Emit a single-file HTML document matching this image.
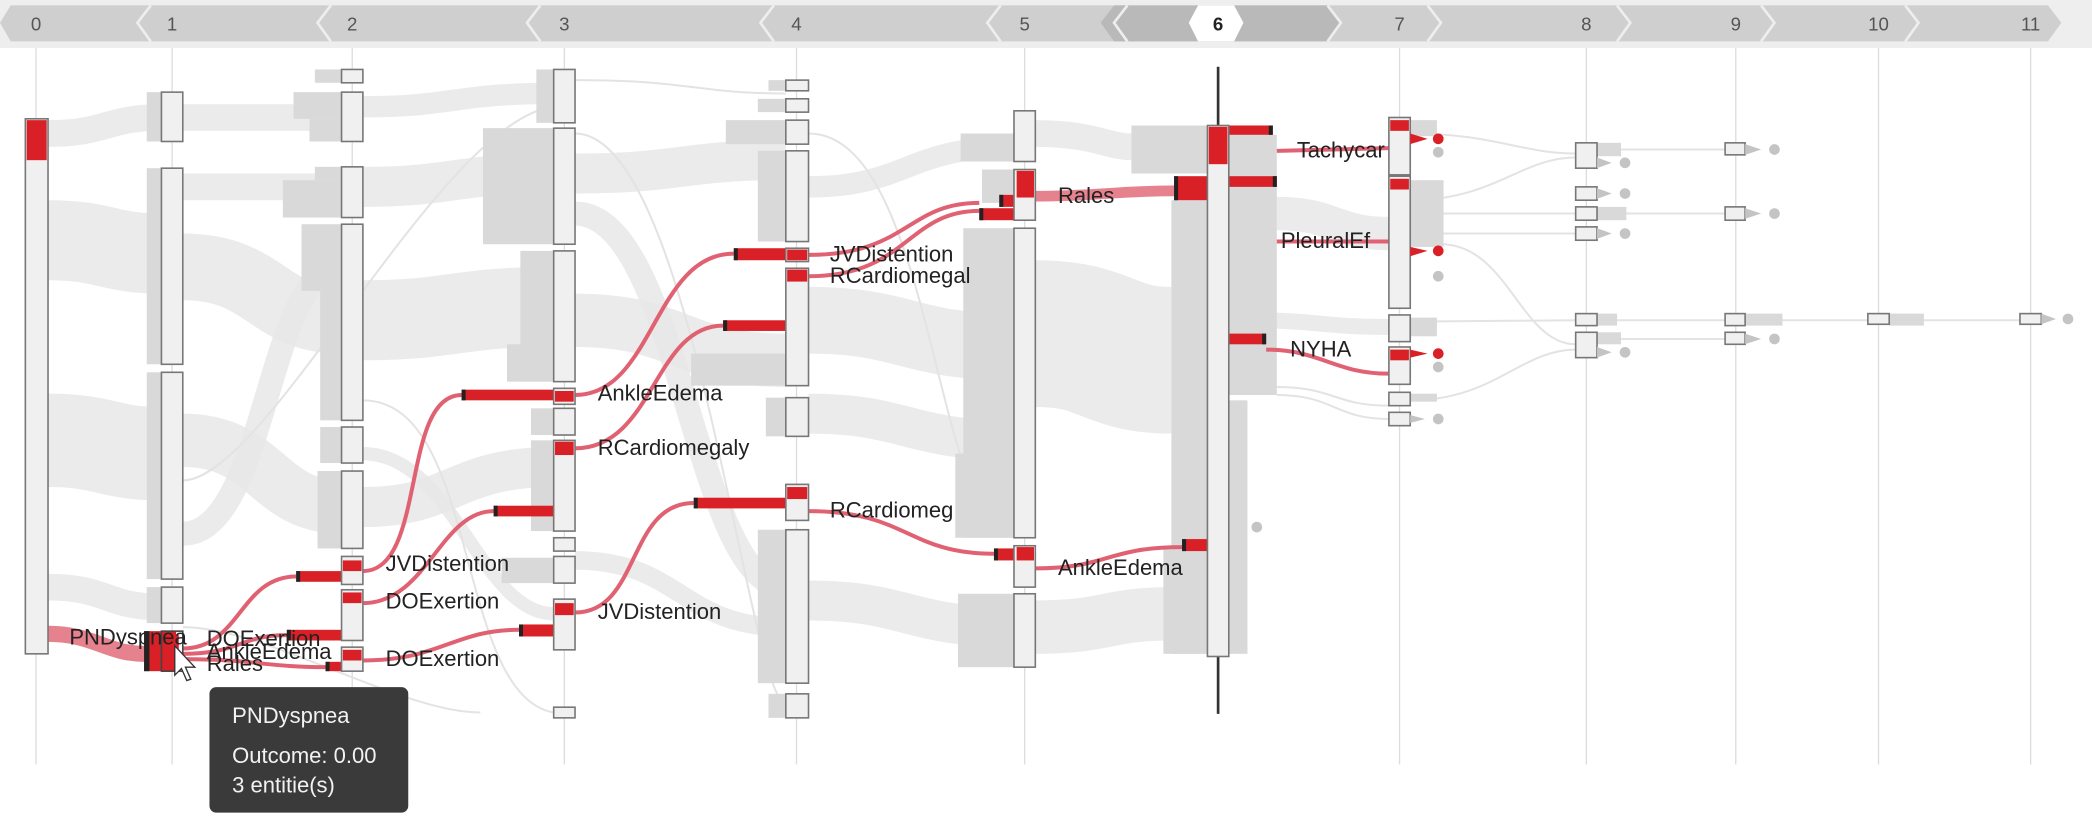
<!DOCTYPE html>
<html><head><meta charset="utf-8"><style>
html,body{margin:0;padding:0;background:#fff;}
svg{display:block;}
text{font-family:"Liberation Sans",Arial,sans-serif;}
</style></head><body>
<svg width="2092" height="822" viewBox="0 0 1568 616" xmlns="http://www.w3.org/2000/svg">
<rect x="0" y="0" width="1568" height="36" fill="#eeeeee"/>
<polygon points="0,17 8,4 1535,4 1545,17 1535,31 8,31" fill="#cfcfcf"/>
<polygon points="835,4 995,4 1005,17 995,31 835,31 825,17" fill="#b9b9b9"/>
<polygon points="898,4 925,4 932,17 925,31 898,31 891,17" fill="#ffffff"/>
<g stroke="#eeeeee" stroke-width="2" fill="none">
<polyline points="113,4 103,17 113,31"/>
<polyline points="248,4 238,17 248,31"/>
<polyline points="405,4 395,17 405,31"/>
<polyline points="580,4 570,17 580,31"/>
<polyline points="750,4 740,17 750,31"/>
<polyline points="845,4 835,17 845,31"/>
<polyline points="995,4 1005,17 995,31"/>
<polyline points="1070,4 1080,17 1070,31"/>
<polyline points="1212,4 1222,17 1212,31"/>
<polyline points="1320,4 1330,17 1320,31"/>
<polyline points="1428,4 1438,17 1428,31"/>
</g>
<g font-size="14" fill="#555" text-anchor="middle">
<text x="27" y="23">0</text><text x="129" y="23">1</text><text x="264" y="23">2</text><text x="423" y="23">3</text><text x="597" y="23">4</text><text x="768" y="23">5</text><text x="913" y="23" fill="#222" font-weight="bold">6</text><text x="1049" y="23">7</text><text x="1189" y="23">8</text><text x="1301" y="23">9</text><text x="1408" y="23">10</text><text x="1522" y="23">11</text>
</g>
<g stroke="#dddddd" stroke-width="1">
<line x1="27" y1="36" x2="27" y2="573"/><line x1="129" y1="36" x2="129" y2="573"/><line x1="264" y1="36" x2="264" y2="573"/><line x1="423" y1="36" x2="423" y2="573"/><line x1="597" y1="36" x2="597" y2="573"/><line x1="768" y1="36" x2="768" y2="573"/><line x1="1049" y1="36" x2="1049" y2="573"/><line x1="1189" y1="36" x2="1189" y2="573"/><line x1="1301" y1="36" x2="1301" y2="573"/><line x1="1408" y1="36" x2="1408" y2="573"/><line x1="1522" y1="36" x2="1522" y2="573"/>
</g>
<g fill="none" stroke="#e8e8e8" stroke-opacity="0.85">
<path d="M36,100 C80,100 80,88 121,88" stroke-width="20"/>
<path d="M36,180 C80,180 80,190 121,190" stroke-width="60"/>
<path d="M36,330 C80,330 80,340 121,340" stroke-width="70"/>
<path d="M36,440 C80,440 80,455 121,455" stroke-width="20"/>
<path d="M137,88 C200,88 200,88 256,88" stroke-width="20"/>
<path d="M137,200 C200,200 200,240 256,240" stroke-width="50"/>
<path d="M137,140 C200,140 200,140 256,140" stroke-width="20"/>
<path d="M137,330 C200,330 200,380 256,380" stroke-width="40"/>
<path d="M137,400 C200,400 200,200 256,200" stroke-width="18"/>
<path d="M272,80 C340,80 340,70 415,70" stroke-width="16"/>
<path d="M272,140 C340,140 340,130 415,130" stroke-width="30"/>
<path d="M272,240 C340,240 340,230 415,230" stroke-width="60"/>
<path d="M272,380 C340,380 340,350 415,350" stroke-width="30"/>
<path d="M272,340 C340,340 360,460 415,460" stroke-width="10"/>
<path d="M431,130 C510,130 510,120 589,120" stroke-width="30"/>
<path d="M431,240 C510,240 510,270 589,270" stroke-width="40"/>
<path d="M431,160 C510,160 520,440 589,440" stroke-width="18"/>
<path d="M431,420 C510,420 510,470 589,470" stroke-width="14"/>
<path d="M606,140 C680,140 680,110 760,110" stroke-width="16"/>
<path d="M606,240 C680,240 680,260 760,260" stroke-width="50"/>
<path d="M606,310 C680,310 680,330 760,330" stroke-width="30"/>
<path d="M606,450 C680,450 680,470 760,470" stroke-width="30"/>
<path d="M776,100 C820,100 830,110 848,110" stroke-width="20"/>
<path d="M776,250 C830,250 830,270 878,270" stroke-width="110"/>
<path d="M776,470 C830,470 830,460 878,460" stroke-width="40"/>
<path d="M957,160 C1000,160 1000,175 1041,175" stroke-width="25"/>
<path d="M935,240 C990,240 990,245 1041,245" stroke-width="12"/>
</g>
<g fill="none" stroke="#e3e3e3" stroke-width="1.5">
<path d="M137,360 C200,360 330,90 415,80"/>
<path d="M272,300 C360,300 340,520 415,534"/>
<path d="M137,470 C200,470 300,534 360,534"/>
<path d="M431,60 C520,60 520,70 589,70"/>
<path d="M431,100 C520,100 560,520 589,528"/>
<path d="M606,100 C700,100 700,400 760,400"/>
<path d="M1057,100 C1120,100 1140,115 1181,115"/>
<path d="M1057,150 C1120,150 1140,118 1181,118"/>
<path d="M1057,160 C1120,160 1140,160 1181,160"/>
<path d="M1057,175 C1120,175 1140,175 1181,175"/>
<path d="M1080,183 C1130,183 1140,258 1181,258"/>
<path d="M1057,241 L1181,240"/>
<path d="M1057,300 C1120,300 1140,262 1181,262"/>
<path d="M1197,112 L1293,112"/><path d="M1197,160 L1293,160"/><path d="M1197,240 L1514,240"/><path d="M1197,254 L1293,254"/>
<path d="M957,290 C1000,290 1000,304 1041,304"/>
<path d="M957,296 C1000,296 1000,314 1041,314"/>
</g>
<g fill="#d9d9d9">
<rect x="110" y="69" width="11" height="37"/><rect x="110" y="126" width="11" height="147"/><rect x="110" y="279" width="11" height="155"/><rect x="110" y="440" width="11" height="27"/>
<rect x="236" y="52" width="20" height="10"/><rect x="220" y="69" width="36" height="20"/><rect x="232" y="89" width="24" height="17"/><rect x="236" y="125" width="20" height="10"/><rect x="212" y="135" width="44" height="28"/><rect x="226" y="168" width="30" height="50"/><rect x="240" y="218" width="16" height="97"/><rect x="240" y="320" width="16" height="27"/><rect x="238" y="353" width="18" height="58"/>
<rect x="402" y="52" width="13" height="40"/><rect x="362" y="96" width="53" height="87"/><rect x="390" y="188" width="25" height="98"/><rect x="380" y="258" width="35" height="28"/><rect x="398" y="306" width="17" height="20"/><rect x="398" y="330" width="17" height="68"/><rect x="376" y="418" width="39" height="19"/>
<rect x="576" y="60" width="13" height="8"/><rect x="568" y="74" width="21" height="10"/><rect x="544" y="90" width="45" height="18"/><rect x="568" y="113" width="21" height="68"/><rect x="518" y="265" width="71" height="24"/><rect x="574" y="298" width="15" height="29"/><rect x="568" y="397" width="21" height="115"/><rect x="576" y="520" width="13" height="18"/>
<rect x="720" y="100" width="40" height="21"/><rect x="736" y="127" width="24" height="25"/><rect x="722" y="171" width="38" height="232"/><rect x="716" y="340" width="44" height="63"/><rect x="718" y="445" width="42" height="55"/>
<rect x="848" y="94" width="57" height="36"/><rect x="878" y="150" width="27" height="340"/><rect x="872" y="410" width="33" height="80"/>
<rect x="921" y="101" width="36" height="195"/><rect x="921" y="300" width="14" height="190"/>
<rect x="1057" y="90" width="20" height="12"/><rect x="1057" y="135" width="25" height="50"/><rect x="1057" y="238" width="20" height="14"/><rect x="1057" y="295" width="20" height="6"/>
<rect x="1197" y="107" width="18" height="10"/><rect x="1197" y="155" width="22" height="10"/><rect x="1197" y="235" width="15" height="9"/><rect x="1197" y="249" width="18" height="9"/>
<rect x="1308" y="235" width="28" height="9"/><rect x="1416" y="235" width="26" height="9"/>
</g>
<g fill="none" stroke="#e06272" stroke-width="3">
<path d="M137,486 C180,486 180,432 222,432"/>
<path d="M137,490 C180,490 180,476 215,476"/>
<path d="M137,494 C190,494 200,500 244,500"/>
<path d="M272,428 C320,428 300,296 346,296"/>
<path d="M272,452 C320,452 330,383 370,383"/>
<path d="M272,495 C330,495 340,472 389,472"/>
<path d="M431,296 C490,296 490,190 550,190"/>
<path d="M431,336 C490,336 490,244 542,244"/>
<path d="M431,459 C480,459 470,377 520,377"/>
<path d="M606,191 C680,191 680,152 734,152"/>
<path d="M606,207 C680,207 680,158 734,158"/>
<path d="M606,383 C680,383 680,415 745,415"/>
<path d="M776,426 C830,426 830,410 886,410"/>
<path d="M957,113 L1041,111"/>
<path d="M957,181 L1041,181"/>
<path d="M949,262 C990,262 1000,280 1041,280"/>
</g>
<path d="M36,475 C70,475 80,490 108,490" stroke="#e06272" stroke-width="12" fill="none" opacity="0.8"/>
<path d="M776,147 C820,147 840,143 880,143" stroke="#e06272" stroke-width="8" fill="none" opacity="0.8"/>
<g fill="#d92027">
<rect x="222" y="428" width="34" height="8"/><rect x="215" y="472" width="41" height="8"/><rect x="244" y="496" width="12" height="7"/>
<rect x="346" y="292" width="69" height="8"/><rect x="370" y="379" width="45" height="8"/><rect x="389" y="468" width="26" height="9"/>
<rect x="550" y="186" width="39" height="9"/><rect x="542" y="240" width="47" height="8"/><rect x="520" y="373" width="69" height="8"/>
<rect x="734" y="156" width="26" height="9"/><rect x="749" y="146" width="11" height="9"/><rect x="745" y="411" width="15" height="9"/>
<rect x="880" y="132" width="25" height="18"/><rect x="886" y="404" width="19" height="9"/>
<rect x="921" y="94" width="33" height="7"/><rect x="921" y="132" width="36" height="8"/><rect x="921" y="250" width="28" height="8"/>
<rect x="108" y="473" width="24" height="30"/>
</g>
<g fill="#222">
<rect x="222" y="428" width="3" height="8"/><rect x="215" y="472" width="3" height="8"/><rect x="244" y="496" width="3" height="7"/><rect x="346" y="292" width="3" height="8"/><rect x="370" y="379" width="3" height="8"/><rect x="389" y="468" width="3" height="9"/><rect x="550" y="186" width="3" height="9"/><rect x="542" y="240" width="3" height="8"/><rect x="520" y="373" width="3" height="8"/><rect x="734" y="156" width="3" height="9"/><rect x="749" y="146" width="3" height="9"/><rect x="745" y="411" width="3" height="9"/><rect x="880" y="132" width="3" height="18"/><rect x="886" y="404" width="3" height="9"/><rect x="951" y="94" width="3" height="7"/><rect x="954" y="132" width="3" height="8"/><rect x="946" y="250" width="3" height="8"/><rect x="108" y="473" width="4" height="30"/>
</g>
<line x1="913" y1="50" x2="913" y2="535" stroke="#333" stroke-width="2"/>
<g fill="#f0f0f0" stroke="#777" stroke-width="1.2">
<rect x="19" y="89" width="17" height="401"/>
<rect x="121" y="69" width="16" height="37"/><rect x="121" y="126" width="16" height="147"/><rect x="121" y="279" width="16" height="155"/><rect x="121" y="440" width="16" height="27"/>
<rect x="256" y="52" width="16" height="10"/><rect x="256" y="69" width="16" height="37"/><rect x="256" y="125" width="16" height="38"/><rect x="256" y="168" width="16" height="147"/><rect x="256" y="320" width="16" height="27"/><rect x="256" y="353" width="16" height="58"/><rect x="256" y="417" width="16" height="21"/><rect x="256" y="442" width="16" height="38"/><rect x="256" y="485" width="16" height="18"/>
<rect x="415" y="52" width="16" height="40"/><rect x="415" y="96" width="16" height="87"/><rect x="415" y="188" width="16" height="98"/><rect x="415" y="291" width="16" height="12"/><rect x="415" y="306" width="16" height="20"/><rect x="415" y="330" width="16" height="68"/><rect x="415" y="403" width="16" height="10"/><rect x="415" y="417" width="16" height="20"/><rect x="415" y="449" width="16" height="38"/><rect x="415" y="530" width="16" height="8"/>
<rect x="589" y="60" width="17" height="8"/><rect x="589" y="74" width="17" height="10"/><rect x="589" y="90" width="17" height="18"/><rect x="589" y="113" width="17" height="68"/><rect x="589" y="186" width="17" height="10"/><rect x="589" y="201" width="17" height="88"/><rect x="589" y="298" width="17" height="29"/><rect x="589" y="363" width="17" height="27"/><rect x="589" y="397" width="17" height="115"/><rect x="589" y="520" width="17" height="18"/>
<rect x="760" y="83" width="16" height="38"/><rect x="760" y="127" width="16" height="38"/><rect x="760" y="171" width="16" height="232"/><rect x="760" y="409" width="16" height="31"/><rect x="760" y="445" width="16" height="55"/>
<rect x="905" y="94" width="16" height="398"/>
<rect x="1041" y="88" width="16" height="43"/><rect x="1041" y="132" width="16" height="99"/><rect x="1041" y="236" width="16" height="20"/><rect x="1041" y="260" width="16" height="28"/><rect x="1041" y="294" width="16" height="10"/><rect x="1041" y="309" width="16" height="10"/>
<rect x="1181" y="107" width="16" height="19"/><rect x="1181" y="140" width="16" height="10"/><rect x="1181" y="155" width="16" height="10"/><rect x="1181" y="170" width="16" height="10"/><rect x="1181" y="235" width="16" height="9"/><rect x="1181" y="249" width="16" height="19"/>
<rect x="1293" y="107" width="15" height="9"/><rect x="1293" y="155" width="15" height="10"/><rect x="1293" y="235" width="15" height="9"/><rect x="1293" y="249" width="15" height="9"/>
<rect x="1400" y="235" width="16" height="8"/><rect x="1514" y="235" width="16" height="8"/>
</g>
<g fill="#d92027">
<rect x="20" y="90" width="15" height="30"/>
<rect x="257" y="420" width="14" height="8"/><rect x="257" y="444" width="14" height="8"/><rect x="257" y="487" width="14" height="8"/>
<rect x="416" y="293" width="14" height="8"/><rect x="416" y="331" width="14" height="10"/><rect x="416" y="452" width="14" height="9"/>
<rect x="590" y="187" width="15" height="8"/><rect x="590" y="202" width="15" height="9"/><rect x="590" y="365" width="15" height="9"/>
<rect x="762" y="128" width="13" height="20"/><rect x="762" y="410" width="13" height="10"/>
<rect x="906" y="95" width="14" height="28"/>
<rect x="1042" y="90" width="14" height="8"/><rect x="1042" y="134" width="14" height="8"/><rect x="1042" y="262" width="14" height="8"/>
<rect x="124" y="476" width="10" height="27"/>
</g>
<rect x="121" y="473" width="16" height="30" fill="none" stroke="#444" stroke-width="1.2"/>
<g fill="#c4c4c4">
<polygon points="1057,100 1070,104 1057,108" fill="#d92027"/><circle cx="1078" cy="104" r="4" fill="#d92027"/>
<circle cx="1078" cy="114" r="4"/><polygon points="1057,185 1070,188 1057,192" fill="#d92027"/><circle cx="1078" cy="188" r="4" fill="#d92027"/><circle cx="1078" cy="207" r="4"/>
<polygon points="1057,262 1070,265 1057,268" fill="#d92027"/><circle cx="1078" cy="265" r="4" fill="#d92027"/><circle cx="1078" cy="275" r="4"/>
<polygon points="1057,311 1068,314 1057,317"/><circle cx="1078" cy="314" r="4"/>
<polygon points="1197,118 1208,122 1197,126"/><circle cx="1218" cy="122" r="4"/>
<polygon points="1197,141 1208,145 1197,149"/><circle cx="1218" cy="145" r="4"/>
<polygon points="1197,171 1208,175 1197,179"/><circle cx="1218" cy="175" r="4"/>
<polygon points="1197,260 1208,264 1197,268"/><circle cx="1218" cy="264" r="4"/>
<polygon points="1308,108 1320,112 1308,116"/><circle cx="1330" cy="112" r="4"/>
<polygon points="1308,156 1320,160 1308,164"/><circle cx="1330" cy="160" r="4"/>
<polygon points="1308,250 1320,254 1308,258"/><circle cx="1330" cy="254" r="4"/>
<polygon points="1530,235 1541,239 1530,243"/><circle cx="1550" cy="239" r="4"/>
<circle cx="942" cy="395" r="4"/>
</g>
<g font-size="16.5" fill="#222">
<text x="52" y="483">PNDyspnea</text><text x="155" y="484">DOExertion</text><text x="155" y="494">AnkleEdema</text><text x="155" y="503">Rales</text>
<text x="289" y="428">JVDistention</text><text x="289" y="456">DOExertion</text><text x="289" y="499">DOExertion</text>
<text x="448" y="300">AnkleEdema</text><text x="448" y="341">RCardiomegaly</text><text x="448" y="464">JVDistention</text>
<text x="622" y="196">JVDistention</text><text x="622" y="212">RCardiomegal</text><text x="622" y="388">RCardiomeg</text>
<text x="793" y="152">Rales</text><text x="793" y="431">AnkleEdema</text>
<text x="972" y="118">Tachycar</text><text x="960" y="186">PleuralEf</text><text x="967" y="267">NYHA</text>
</g>
<polygon points="131,484 131,506 136,501 140,510 143,509 139,500 146,500" fill="#fff" stroke="#333" stroke-width="1"/>
<rect x="157" y="515" width="149" height="94" rx="5" fill="#3a3a3a"/>
<g font-size="16.5" fill="#f2f2f2">
<text x="174" y="542">PNDyspnea</text><text x="174" y="572">Outcome: 0.00</text><text x="174" y="594">3 entitie(s)</text>
</g>
</svg>
</body></html>
